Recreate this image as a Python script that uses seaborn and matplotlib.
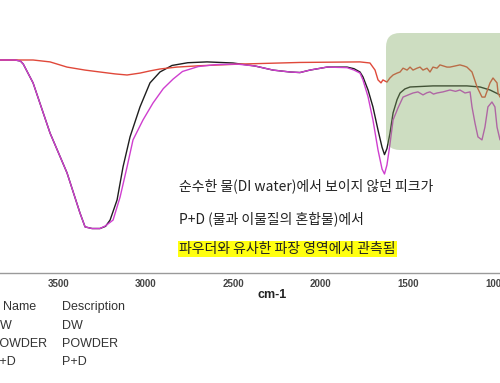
import matplotlib
matplotlib.use("Agg")
import matplotlib.pyplot as plt
import seaborn as sns
import pandas as pd
from matplotlib.patches import FancyBboxPatch
from matplotlib.transforms import IdentityTransform

# ---------------- data ----------------
dw_wn = [3833, 3747, 3716, 3700, 3644, 3547, 3450, 3376, 3347, 3307, 3262, 3230, 3204, 3164,
         3130, 3090, 3033, 2976, 2919, 2850, 2760, 2650, 2502, 2376, 2273, 2176, 2119, 2062,
         1964, 1850, 1810, 1776, 1759, 1730, 1702, 1673, 1650, 1636, 1622, 1605, 1587, 1564,
         1547, 1519, 1490, 1359, 1165, 1090, 1033, 976]
dw_t = [78.0, 78.0, 77.6, 76.5, 69.6, 51.2, 36.6, 21.9, 16.8, 16.2, 16.2, 17.0, 19.3, 26.7,
        38.8, 49.8, 60.8, 69.6, 73.6, 76.0, 77.0, 77.3, 76.9, 75.8, 74.3, 73.6, 73.4, 74.3,
        75.4, 75.4, 74.8, 73.6, 71.8, 67.0, 60.8, 52.3, 46.0, 43.3, 45.5, 51.0, 58.6, 63.5,
        65.9, 67.4, 68.1, 68.5, 68.5, 68.1, 67.0, 65.2]

powder_wn = [3833, 3644, 3547, 3450, 3347, 3262, 3176, 3107, 3033, 2976, 2919, 2822, 2690,
             2462, 2119, 1776, 1719, 1690, 1673, 1656, 1645, 1622, 1605, 1587, 1564, 1547,
             1530, 1507, 1490, 1473, 1450, 1433, 1416, 1393, 1376, 1359, 1336, 1319, 1279,
             1262, 1233, 1205, 1182, 1165, 1136, 1107, 1079, 1062, 1033, 1016, 993, 987, 976]
powder_t = [78.0, 78.0, 77.3, 75.4, 74.3, 73.6, 72.9, 72.5, 73.2, 74.0, 74.7, 75.4, 75.9,
            76.5, 77.1, 77.3, 76.9, 74.3, 70.7, 69.6, 70.7, 69.9, 71.4, 72.5, 73.2, 73.6,
            75.0, 74.3, 75.4, 74.3, 75.0, 75.4, 74.3, 75.0, 73.6, 75.4, 75.0, 76.2, 75.4,
            75.4, 75.8, 76.2, 75.8, 75.4, 73.6, 68.1, 64.4, 64.4, 69.6, 71.4, 69.6, 65.9, 64.4]

pd_wn = [3833, 3747, 3716, 3700, 3644, 3547, 3450, 3376, 3347, 3307, 3262, 3230, 3187, 3147,
         3107, 3073, 3016, 2959, 2900, 2844, 2790, 2700, 2600, 2479, 2376, 2273, 2176, 2119,
         2062, 1964, 1850, 1810, 1776, 1759, 1730, 1702, 1673, 1650, 1636, 1622, 1605, 1587,
         1559, 1530, 1500, 1473, 1445, 1416, 1393, 1376, 1356, 1336, 1302, 1262, 1230, 1205,
         1176, 1147, 1136, 1119, 1102, 1079, 1062, 1045, 1022, 1005, 993, 976]
pd_t = [78.0, 78.0, 77.6, 76.5, 69.6, 51.2, 36.6, 21.9, 16.8, 16.2, 16.2, 17.2, 19.3, 27.7,
        38.8, 48.7, 56.0, 62.2, 67.5, 71.0, 73.8, 75.6, 76.3, 76.5, 75.8, 74.3, 73.6, 73.4,
        74.3, 75.4, 75.2, 74.3, 73.2, 70.7, 64.5, 56.0, 45.0, 38.0, 36.2, 39.5, 47.0, 56.0,
        60.4, 64.4, 65.2, 65.9, 66.3, 65.2, 66.0, 66.3, 65.5, 65.9, 66.3, 67.0, 66.5, 67.0,
        65.9, 66.3, 60.8, 54.9, 49.8, 48.7, 53.4, 60.8, 62.6, 60.8, 53.4, 48.7]

series_names = ["DW", "POWDER", "P+D"]
series_colors = ["#1e1e1e", "#e0483a", "#cf3fcf"]
tick_values = [3500, 3000, 2500, 2000, 1500, 1000]
x_label = "cm-1"
notes = ["순수한 물(DI water)에서 보이지 않던 피크가",
         "P+D (물과 이물질의 혼합물)에서",
         "파우더와 유사한 파장 영역에서 관측됨"]
legend_header = ["Name", "Description"]

# ---------------- build long table ----------------
frames = []
for name, wn, t in zip(series_names, [dw_wn, powder_wn, pd_wn], [dw_t, powder_t, pd_t]):
    assert len(wn) == len(t), name
    frames.append(pd.DataFrame({"wn": wn, "T": t, "Name": name}))
df = pd.concat(frames, ignore_index=True)

sns.set_style("white")
W, H = 500, 383
fig = plt.figure(figsize=(W / 100, H / 100), dpi=100)
axis_y = 272.7
ax = fig.add_axes([0, 1 - axis_y / H, 1, axis_y / H])

sns.lineplot(data=df, x="wn", y="T", hue="Name", hue_order=series_names,
             palette=dict(zip(series_names, series_colors)), sort=False,
             estimator=None, legend=False, linewidth=1.0, ax=ax)

ax.set_xlim(3833, 976)
ax.set_ylim(0, 100)
for s in ["left", "right", "top"]:
    ax.spines[s].set_visible(False)
ax.spines["bottom"].set_color("#9a9a9a")
ax.spines["bottom"].set_linewidth(1.0)
ax.set_xticks(tick_values)
ax.set_xticklabels([str(v) for v in tick_values], fontsize=7, fontweight="bold",
                   color="#444444", family="Liberation Sans")
ax.tick_params(axis="x", direction="out", length=2.5, width=0.8, color="#9a9a9a", pad=2)
ax.set_yticks([])
ax.set_xlabel("")
ax.set_ylabel("")
ax.patch.set_alpha(0)

# green highlighted region (semi-transparent overlay)
box = FancyBboxPatch((386, H - 150), 160, 117,
                     boxstyle="round,pad=0,rounding_size=14",
                     transform=IdentityTransform(), facecolor=(0.49, 0.66, 0.37),
                     alpha=0.38, edgecolor="none", zorder=5)
ax.add_patch(box)

# annotation text
kfont = ["Noto Sans CJK KR", "DejaVu Sans"]
ksize = 10
fig.text(179 / W, 1 - 186 / H, notes[0], fontsize=ksize, family=kfont, color="#222222",
         ha="left", va="center")
fig.text(179 / W, 1 - 219 / H, notes[1], fontsize=ksize, family=kfont, color="#222222",
         ha="left", va="center")
fig.text(179 / W, 1 - 249 / H, notes[2], fontsize=ksize, family=kfont, color="#222222",
         ha="left", va="center",
         bbox=dict(boxstyle="square,pad=0.1", facecolor="#ffff10", edgecolor="none"))

fig.text(272 / W, 1 - 295 / H, x_label, fontsize=9, fontweight="bold",
         family="Liberation Sans", color="#222222", ha="center", va="center")

# legend table (cropped at left)
lfont = "Liberation Sans"
fig.text(3 / W, 1 - 307 / H, legend_header[0], fontsize=9, family=lfont, color="#333333",
         ha="left", va="center")
fig.text(62 / W, 1 - 307 / H, legend_header[1], fontsize=9, family=lfont, color="#333333",
         ha="left", va="center")
row_y = [326, 344, 362]
for name, yy in zip(series_names, row_y):
    fig.text(-8.5 / W, 1 - yy / H, name, fontsize=9, family=lfont, color="#333333",
             ha="left", va="center")
    fig.text(62 / W, 1 - yy / H, name, fontsize=9, family=lfont, color="#333333",
             ha="left", va="center")

fig.savefig("out.png", dpi=100)
